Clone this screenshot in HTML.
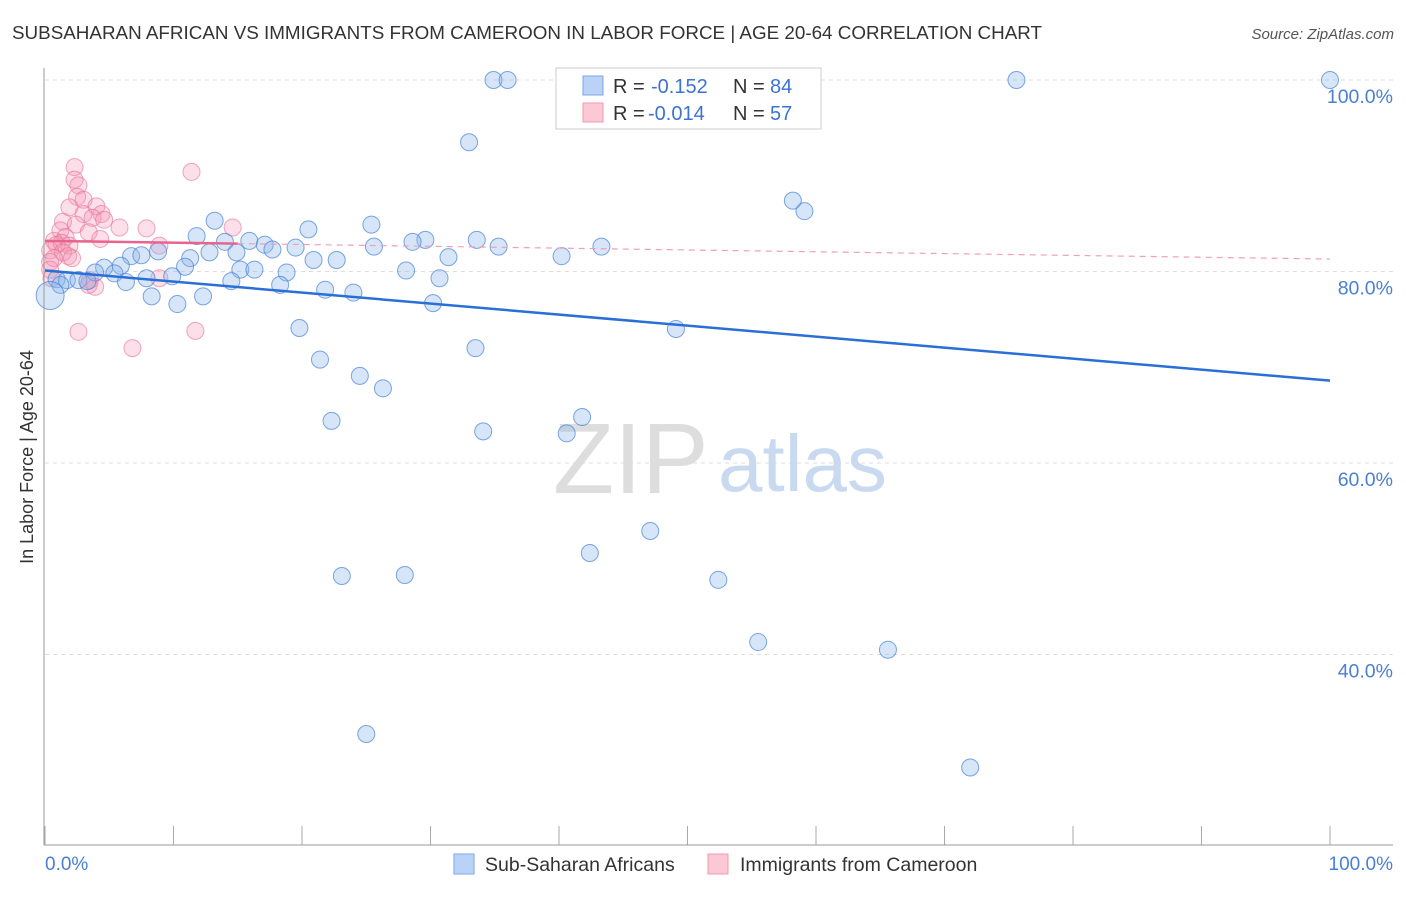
<!DOCTYPE html>
<html><head><meta charset="utf-8"><style>
body{margin:0;background:#fff;font-family:"Liberation Sans",sans-serif}
svg text{font-family:"Liberation Sans",sans-serif}
</style></head><body>
<svg id="chart" width="1406" height="892" xmlns="http://www.w3.org/2000/svg">
<text x="12" y="39" font-size="18.8" fill="#333" textLength="1030" lengthAdjust="spacingAndGlyphs">SUBSAHARAN AFRICAN VS IMMIGRANTS FROM CAMEROON IN LABOR FORCE | AGE 20-64 CORRELATION CHART</text>
<text x="1394" y="39" font-size="15" fill="#555" text-anchor="end" font-style="italic">Source: ZipAtlas.com</text>
<text transform="translate(33,457) rotate(-90)" font-size="18" fill="#333" text-anchor="middle">In Labor Force | Age 20-64</text>
<g id="grid"></g>
<text x="553" y="493" font-size="100" fill="#ddd" font-family="Liberation Serif,serif">ZIP</text>
<text x="718" y="491" font-size="80" fill="#c9daf0">atlas</text>
<g id="marks"></g>
<line x1="44" y1="68" x2="44" y2="845" stroke="#999" stroke-width="1"/>
<line x1="44" y1="845" x2="1393" y2="845" stroke="#999" stroke-width="1"/>
<text x="45" y="870" font-size="19" fill="#4a7fd4">0.0%</text>
<text x="1393" y="870" font-size="19" fill="#4a7fd4" text-anchor="end">100.0%</text>
<g>
<rect x="556" y="68" width="265" height="61" fill="#fff" stroke="#ccc"/>
<rect x="583" y="76" width="20" height="19" fill="#b9d2f5" stroke="#7aa6e6"/>
<rect x="583" y="103" width="20" height="19" fill="#fbc8d6" stroke="#f09ab3"/>
<text x="613" y="93" font-size="20" fill="#333">R =</text><text x="651" y="93" font-size="20" fill="#3b73d4">-0.152</text>
<text x="733" y="93" font-size="20" fill="#333">N =</text><text x="770" y="93" font-size="20" fill="#3b73d4">84</text>
<text x="613" y="120" font-size="20" fill="#333">R =</text><text x="648" y="120" font-size="20" fill="#3b73d4">-0.014</text>
<text x="733" y="120" font-size="20" fill="#333">N =</text><text x="770" y="120" font-size="20" fill="#3b73d4">57</text>
</g>
<g>
<rect x="454" y="854" width="20" height="20" fill="#b9d2f5" stroke="#7aa6e6"/>
<text x="485" y="871" font-size="19.5" fill="#333">Sub-Saharan Africans</text>
<rect x="708" y="854" width="20" height="20" fill="#fbc8d6" stroke="#f09ab3"/>
<text x="740" y="871" font-size="19.5" fill="#333">Immigrants from Cameroon</text>
</g>
</svg>
<script>
const yTicks=[100,80,60,40];
const xTicks=[0,10,20,30,40,50,60,70,80,90,100];
const blueX=[34.9,36.0,46.1,54.6,75.6,100,33.0,58.2,59.1,13.2,25.4,20.5,11.8,33.6,29.6,28.6,14.0,15.9,17.1,25.6,35.3,43.3,19.5,17.7,12.8,14.9,6.7,7.5,8.8,40.2,31.4,11.3,20.9,22.7,10.9,4.6,5.9,15.2,16.3,28.1,18.8,3.9,5.4,9.9,7.9,30.7,14.5,0.9,1.7,2.6,3.3,6.3,1.2,18.3,21.8,24.0,8.3,12.3,30.2,10.3,19.8,49.1,33.5,21.4,24.5,26.3,22.3,41.8,34.1,40.6,47.1,42.4,23.1,28.0,52.4,55.5,65.6,25.0,72.0,0.4];
const blueY=[100,100,100,100,100,100,93.5,87.4,86.3,85.3,84.9,84.4,83.7,83.3,83.3,83.1,83.1,83.2,82.8,82.6,82.6,82.6,82.5,82.3,82.0,82.0,81.6,81.7,82.1,81.6,81.5,81.4,81.2,81.2,80.5,80.4,80.6,80.2,80.2,80.1,79.9,79.9,79.8,79.5,79.3,79.3,79.0,79.2,79.1,79.1,79.0,78.9,78.6,78.6,78.1,77.8,77.4,77.4,76.7,76.6,74.1,74.0,72.0,70.8,69.1,67.8,64.4,64.8,63.3,63.1,52.9,50.6,48.2,48.3,47.8,41.3,40.5,31.7,28.2,77.5];
const pinkX=[2.3,11.4,2.3,2.6,2.5,3.0,4.0,1.9,4.4,3.0,3.7,4.6,1.4,2.4,5.8,7.9,14.6,1.2,3.4,1.6,4.3,0.7,0.9,1.3,1.9,8.9,0.4,1.4,1.8,0.7,2.1,0.4,0.4,8.9,0.5,3.5,3.4,3.9,2.6,11.7,6.8];
const pinkY=[90.9,90.4,89.6,89.0,87.8,87.5,86.8,86.7,86.0,86.0,85.6,85.4,85.2,84.9,84.6,84.5,84.6,84.3,84.1,83.6,83.4,83.2,82.8,83.0,82.7,82.7,82.2,82.0,81.6,81.4,81.4,81.0,80.2,79.3,79.3,79.1,78.6,78.4,73.7,73.8,72.0];
const blueTrend=[80.1,68.6];
const pinkTrend=[83.2,81.3];
const NS="http://www.w3.org/2000/svg";
const sx=v=>45+v*12.85;
const sy=v=>80+(100-v)*9.575;
function mk(t,a,p){const e=document.createElementNS(NS,t);for(const k in a)e.setAttribute(k,a[k]);p.appendChild(e);return e;}
const grid=document.getElementById('grid'),marks=document.getElementById('marks');
yTicks.forEach(t=>{
 const l=mk('line',{x1:45,x2:1393,y1:sy(t),y2:sy(t),stroke:'#ddd','stroke-dasharray':'4,4'},grid);
 
 
 const tx=mk('text',{x:1393,y:sy(t)+23,'font-size':19.5,fill:'#4a7fd4','text-anchor':'end'},grid);
 tx.textContent=t.toFixed(1)+'%';
 
 
});
xTicks.forEach(t=>{
 const l=mk('line',{x1:sx(t),x2:sx(t),y1:826,y2:845,stroke:'#aaa'},grid);
 
 
});
pinkX.forEach((x,i)=>{
 const c=mk('circle',{cx:sx(x),cy:sy(pinkY[i]),r:8.5,fill:'rgba(246,150,180,0.3)',stroke:'rgba(230,110,150,0.6)'},marks);
 
 
});
blueX.forEach((x,i)=>{
 const c=mk('circle',{cx:sx(x),cy:sy(blueY[i]),r:i==blueX.length-1?14:8.5,fill:'rgba(140,180,235,0.35)',stroke:'rgba(70,130,215,0.7)'},marks);
 
 
});
const bl=mk('line',{x1:sx(0),y1:sy(blueTrend[0]),x2:sx(100),y2:sy(blueTrend[1]),stroke:'#2a6fd6','stroke-width':2.5},marks);


const pm=pinkTrend[0]+(pinkTrend[1]-pinkTrend[0])*0.15;
const pl=mk('line',{x1:sx(0),y1:sy(pinkTrend[0]),x2:sx(15),y2:sy(pm),stroke:'#e8648e','stroke-width':2.5},marks);


const pd=mk('line',{x1:sx(15),y1:sy(pm),x2:sx(100),y2:sy(pinkTrend[1]),stroke:'#eea0b8','stroke-width':1.2,'stroke-dasharray':'6,5'},marks);


</script>
</body></html>
